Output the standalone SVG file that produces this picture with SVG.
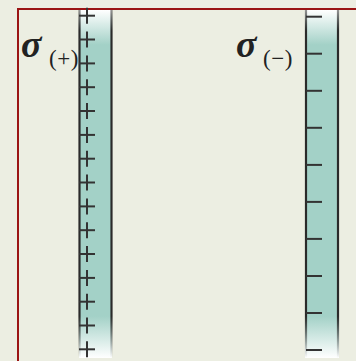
<svg xmlns="http://www.w3.org/2000/svg" width="356" height="361" viewBox="0 0 356 361">
  <defs>
    <linearGradient id="fillGrad" x1="0" y1="10" x2="0" y2="358" gradientUnits="userSpaceOnUse">
      <stop offset="0" stop-color="#ffffff"/>
      <stop offset="0.1" stop-color="#a3d1c7"/>
      <stop offset="0.88" stop-color="#a3d1c7"/>
      <stop offset="1" stop-color="#ffffff"/>
    </linearGradient>
    <linearGradient id="edgeGrad" x1="0" y1="10" x2="0" y2="358" gradientUnits="userSpaceOnUse">
      <stop offset="0" stop-color="#2a2a2a" stop-opacity="0.5"/>
      <stop offset="0.06" stop-color="#2a2a2a"/>
      <stop offset="0.88" stop-color="#2a2a2a"/>
      <stop offset="1" stop-color="#2a2a2a" stop-opacity="0"/>
    </linearGradient>
    <g id="plus">
      <line x1="-8" y1="0" x2="8" y2="0"/>
      <line x1="0" y1="-8" x2="0" y2="8"/>
    </g>
    <line id="minus" x1="0" y1="0" x2="16" y2="0"/>
  </defs>
  <style>
    .frame { fill: none; stroke: #9a1414; stroke-width: 2; }
    .plate { fill: url(#fillGrad); }
    .edge { stroke: url(#edgeGrad); stroke-width: 2.2; fill: none; }
    .sign { stroke: #333333; stroke-width: 2; }
    .sigma { font-family: "Liberation Serif", serif; font-style: italic; font-weight: bold; font-size: 38px; fill: #222222; }
    .sub { font-family: "Liberation Serif", serif; font-size: 23px; letter-spacing: 0.5px; fill: #222222; }
  </style>
  <rect width="356" height="361" fill="#eceee2"/>
  <path class="frame" d="M18 361 V9 H356"/>

  <g id="plate-positive">
    <rect class="plate" x="79" y="10" width="33" height="348"/>
    <line class="edge" x1="79.5" y1="10" x2="79.5" y2="358"/>
    <line class="edge" x1="111.5" y1="10" x2="111.5" y2="358"/>
    <g class="sign">
      <use href="#plus" x="87" y="15.7"/>
      <use href="#plus" x="87" y="39.5"/>
      <use href="#plus" x="87" y="63.4"/>
      <use href="#plus" x="87" y="87.2"/>
      <use href="#plus" x="87" y="111"/>
      <use href="#plus" x="87" y="134.9"/>
      <use href="#plus" x="87" y="158.7"/>
      <use href="#plus" x="87" y="182.5"/>
      <use href="#plus" x="87" y="206.4"/>
      <use href="#plus" x="87" y="230.2"/>
      <use href="#plus" x="87" y="254"/>
      <use href="#plus" x="87" y="277.9"/>
      <use href="#plus" x="87" y="301.7"/>
      <use href="#plus" x="87" y="325.5"/>
      <use href="#plus" x="87" y="349.3"/>
    </g>
  </g>

  <g id="plate-negative">
    <rect class="plate" x="305" y="10" width="34" height="348"/>
    <line class="edge" x1="306" y1="10" x2="306" y2="358"/>
    <line class="edge" x1="338" y1="10" x2="338" y2="358"/>
    <g class="sign">
      <use href="#minus" x="306" y="16.7"/>
      <use href="#minus" x="306" y="53.7"/>
      <use href="#minus" x="306" y="90.8"/>
      <use href="#minus" x="306" y="127.8"/>
      <use href="#minus" x="306" y="164.9"/>
      <use href="#minus" x="306" y="201.9"/>
      <use href="#minus" x="306" y="238.9"/>
      <use href="#minus" x="306" y="276"/>
      <use href="#minus" x="306" y="313"/>
      <use href="#minus" x="306" y="350"/>
    </g>
  </g>

  <g id="label-positive">
    <text class="sigma" x="21" y="57">σ</text>
    <text class="sub" x="49" y="66">(+)</text>
  </g>
  <g id="label-negative">
    <text class="sigma" x="236" y="57">σ</text>
    <text class="sub" x="263" y="66">(−)</text>
  </g>
</svg>
